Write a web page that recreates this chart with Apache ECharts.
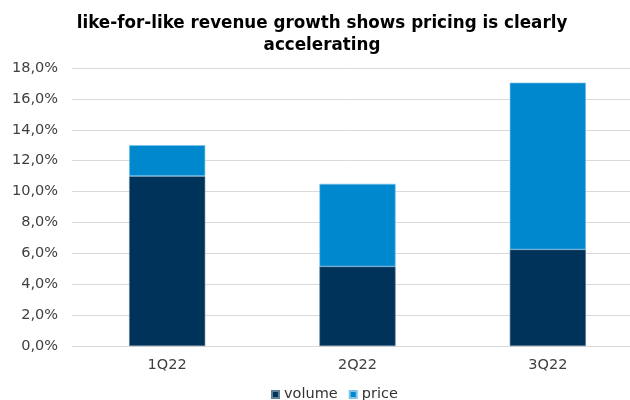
<!DOCTYPE html>
<html><head><meta charset="utf-8">
<script src="https://cdn.jsdelivr.net/npm/echarts@6/dist/echarts.min.js"></script>
<style>html,body{margin:0;padding:0;background:#fff}#c{width:630px;height:400px}</style>
</head><body><div id="c"></div>
<script>
const categories = ['1Q22', '2Q22', '3Q22'];
const volume = [11.0, 5.15, 6.25];
const price = [2.0, 5.35, 10.8];
const yTicks = [0, 2, 4, 6, 8, 10, 12, 14, 16, 18];

const chart = echarts.init(document.getElementById('c'));
const font = 'DejaVu Sans, Verdana, sans-serif';
chart.setOption({
  animation: false,
  title: {
    text: 'like-for-like revenue growth shows pricing is clearly\naccelerating',
    left: 317, textAlign: 'center', top: 8, padding: 5,
    textStyle: { fontFamily: font, fontWeight: 'bold', fontSize: 16.75, color: '#000', lineHeight: 22 }
  },
  legend: {
    bottom: -2, left: 271, itemWidth: 7, itemHeight: 7, itemGap: 11,
    icon: 'rect', padding: 0,
    textStyle: { fontFamily: font, fontSize: 14.5, color: '#333' },
    data: ['volume', 'price']
  },
  grid: { left: 72, right: -13, top: 68, bottom: 54, containLabel: false, outerBoundsMode: 'none' },
  xAxis: {
    type: 'category', data: categories,
    axisLine: { lineStyle: { color: '#D9D9D9', width: 1 } },
    axisTick: { show: false },
    axisLabel: { fontFamily: font, fontSize: 14.5, color: '#404040', margin: 12 }
  },
  yAxis: {
    type: 'value', min: yTicks[0], max: yTicks[yTicks.length - 1], interval: 2,
    axisLine: { show: false }, axisTick: { show: false },
    splitLine: { lineStyle: { color: '#D9D9D9', width: 1 } },
    axisLabel: { fontFamily: font, fontSize: 14.5, color: '#404040', margin: 14,
      formatter: v => v.toFixed(1).replace('.', ',') + '%' }
  },
  series: [
    { name: 'volume', type: 'bar', stack: 't', data: volume, barWidth: '40%',
      itemStyle: { color: '#003359', borderColor: '#5f7f9a', borderWidth: 0.6 } },
    { name: 'price', type: 'bar', stack: 't', data: price, barWidth: '40%',
      itemStyle: { color: '#0088CF', borderColor: '#7fc3e8', borderWidth: 0.6 } }
  ]
});
</script></body></html>
